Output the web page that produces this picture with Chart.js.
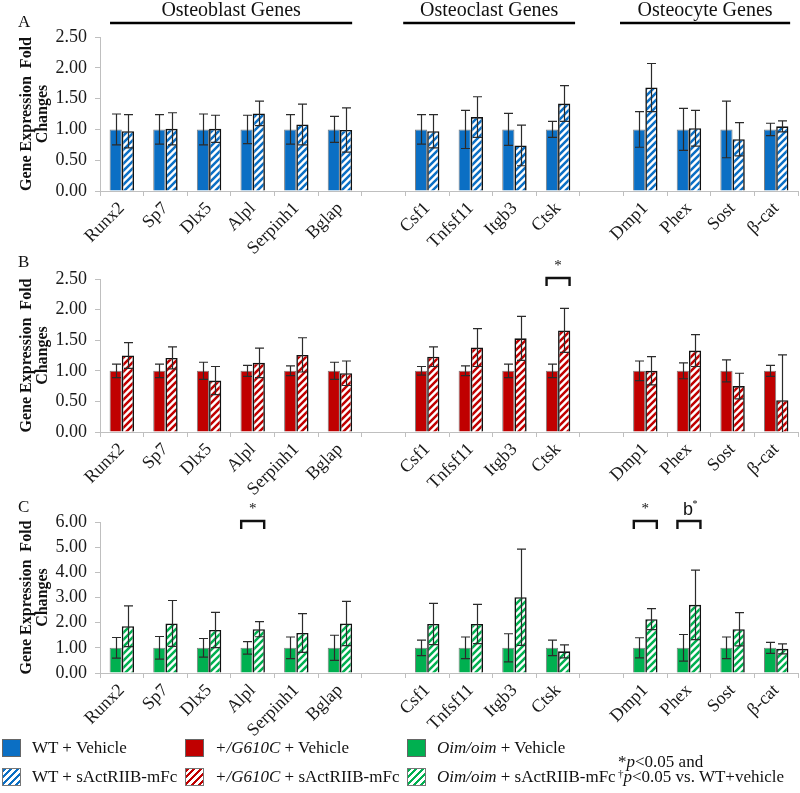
<!DOCTYPE html>
<html><head><meta charset="utf-8">
<script src="https://cdn.jsdelivr.net/npm/chart.js@4"></script>
<style>
body{margin:0;width:800px;height:793px;position:relative;background:#fff;font-family:'Liberation Serif',serif;overflow:hidden;color:#111}
canvas{position:absolute;left:0}
.lt{position:absolute;font-size:17px;line-height:16px;left:18px}
.leg{position:absolute;font-size:17px;white-space:nowrap;line-height:20px}
.sw{position:absolute;width:19px;height:18px;box-sizing:border-box;border:1px solid #666}
.up{position:relative;top:-5px;font-size:11px}
</style></head><body>
<canvas id="cA" width="800" height="260" style="top:0"></canvas>
<canvas id="cB" width="800" height="260" style="top:250px"></canvas>
<canvas id="cC" width="800" height="250" style="top:490px"></canvas>
<div class="lt" style="top:14px">A</div>
<div class="lt" style="top:254px">B</div>
<div class="lt" style="top:499px">C</div>
<div id="legend"></div>
<script>
// ---- data ----
const genes = ['Runx2','Sp7','Dlx5','Alpl','Serpinh1','Bglap','','Csf1','Tnfsf11','Itgb3','Ctsk','','Dmp1','Phex','Sost','β-cat'];
const yTicksA = [0,0.5,1,1.5,2,2.5];
const yTicksC = [0,1,2,3,4,5,6];

const wtVehicle    = [1,1,1,1,1,1,null,1,1,1,1,null,1,1,1,1];
const wtVehicleErr = [0.25,0.24,0.25,0.23,0.24,0.21,null,0.24,0.31,0.26,0.13,null,0.29,0.34,0.46,0.10];
const wtTreated    = [0.97,1.01,1.01,1.26,1.08,0.99,null,0.97,1.20,0.74,1.42,null,1.68,1.02,0.84,1.05];
const wtTreatedErr = [0.27,0.26,0.22,0.20,0.33,0.36,null,0.27,0.33,0.33,0.29,null,0.39,0.29,0.27,0.09];

const g610cVehicle    = [1,1,1,1,1,1,null,1,1,1,1,null,1,1,1,1];
const g610cVehicleErr = [0.11,0.11,0.14,0.09,0.08,0.14,null,0.07,0.08,0.11,0.11,null,0.16,0.13,0.18,0.09];
const g610cTreated    = [1.25,1.21,0.84,1.13,1.26,0.96,null,1.23,1.38,1.53,1.66,null,1.00,1.33,0.75,0.52];
const g610cTreatedErr = [0.21,0.18,0.23,0.24,0.28,0.20,null,0.16,0.31,0.36,0.36,null,0.23,0.26,0.21,0.74];

const oimVehicle    = [1,1,1,1,1,1,null,1,1,1,1,null,1,1,1,1];
const oimVehicleErr = [0.41,0.45,0.37,0.25,0.43,0.50,null,0.31,0.43,0.56,0.31,null,0.40,0.53,0.43,0.22];
const oimTreated    = [1.86,1.97,1.71,1.74,1.59,1.97,null,1.95,1.95,3.01,0.86,null,2.14,2.71,1.74,0.96];
const oimTreatedErr = [0.81,0.91,0.70,0.30,0.77,0.88,null,0.82,0.78,1.91,0.26,null,0.42,1.38,0.66,0.20];

const groupNames = ['Osteoblast Genes','Osteoclast Genes','Osteocyte Genes'];
const sigB = [{gene:'Ctsk', mark:'*'}];
const sigC = [{gene:'Alpl', mark:'*'},{gene:'Dmp1', mark:'*'},{gene:'Phex', mark:'b', sup:'*'}];

const seriesNames = [
  ['WT + Vehicle','WT + sActRIIB-mFc'],
  ['<i>+/G610C</i> + Vehicle','<i>+/G610C</i> + sActRIIB-mFc'],
  ['<i>Oim/oim</i> + Vehicle','<i>Oim/oim</i> + sActRIIB-mFc']
];
const colors = ['#0b6fc4','#c00000','#00b050'];

// ---- helpers ----
function hatch(color){
  const s=7, c=document.createElement('canvas'); c.width=c.height=s;
  const g=c.getContext('2d'); g.fillStyle='#fff'; g.fillRect(0,0,s,s);
  g.strokeStyle=color; g.lineWidth=2.5; g.beginPath();
  g.moveTo(-1,1);g.lineTo(1,-1);
  g.moveTo(-1,s+1);g.lineTo(s+1,-1);
  g.moveTo(s-1,s+1);g.lineTo(s+1,s-1);
  g.stroke();
  return g.createPattern(c,'repeat');
}
const FONT='Liberation Serif';

const overlay = {
  id:'overlay',
  afterDatasetsDraw(chart){
    const ctx=chart.ctx, ys=chart.scales.y;
    ctx.save();
    ctx.strokeStyle='#2b2b2b'; ctx.lineWidth=1.2;
    chart.data.datasets.forEach((ds,di)=>{
      const meta=chart.getDatasetMeta(di);
      meta.data.forEach((el,i)=>{
        const v=ds.data[i], e=ds.errors[i];
        if(v==null||e==null) return;
        const x=Math.round(el.x)+0.5, yt=ys.getPixelForValue(v+e), yb=ys.getPixelForValue(Math.max(0,v-e));
        ctx.beginPath();
        ctx.moveTo(x,yt);ctx.lineTo(x,yb);
        ctx.moveTo(x-4.5,yt);ctx.lineTo(x+4.5,yt);
        if(v-e>0){ctx.moveTo(x-4.5,yb);ctx.lineTo(x+4.5,yb);}
        ctx.stroke();
      });
    });
    ctx.restore();
  },
  afterDraw(chart){
    const o=chart.options.plugins.overlay||{};
    const ctx=chart.ctx, xs=chart.scales.x;
    const w=xs.width/genes.length;
    const px=v=>xs.left+(v+0.5)*w;
    ctx.save();
    if(o.headers){
      const spans=[[-0.27,5.28],[6.45,10.39],[11.42,15.32]];
      ctx.font='20px '+FONT; ctx.fillStyle='#111'; ctx.textAlign='center'; ctx.textBaseline='middle';
      ctx.strokeStyle='#000'; ctx.lineWidth=2.3;
      spans.forEach((s,k)=>{
        const a=px(s[0]), b=px(s[1]);
        ctx.fillText(groupNames[k],(a+b)/2,11);
        ctx.beginPath(); ctx.moveTo(a,23); ctx.lineTo(b,23); ctx.stroke();
      });
    }
    (o.sig||[]).forEach(s=>{
      const i=genes.indexOf(s.gene), c=px(i);
      const top=chart.chartArea.top-1;
      ctx.strokeStyle='#111'; ctx.lineWidth=2.4;
      ctx.beginPath(); ctx.moveTo(c-11.5,top+8); ctx.lineTo(c-11.5,top); ctx.lineTo(c+11.5,top); ctx.lineTo(c+11.5,top+8); ctx.stroke();
      ctx.fillStyle='#111'; ctx.textAlign='center'; ctx.textBaseline='middle';
      if(s.sup){
        ctx.font='18px Liberation Sans'; ctx.fillText(s.mark,c-1,top-11);
        ctx.font='10px '+FONT; ctx.fillText(s.sup,c+6,top-17);
      } else {
        ctx.font='15px '+FONT; ctx.fillText(s.mark,c,top-12);
      }
    });
    ctx.restore();
  }
};

function makeChart(id, k, veh, vehErr, trt, trtErr, ymax, step, padTop, xH, ov){
  const ctx=document.getElementById(id).getContext('2d');
  return new Chart(ctx,{
    type:'bar',
    data:{labels:genes,datasets:[
      {label:'v',data:veh,errors:vehErr,backgroundColor:colors[k],borderColor:'rgba(20,20,20,0.55)',borderWidth:1,categoryPercentage:0.56,barPercentage:1},
      {label:'t',data:trt,errors:trtErr,backgroundColor:hatch(colors[k]),borderColor:'#111',borderWidth:1.6,categoryPercentage:0.56,barPercentage:1}
    ]},
    options:{
      responsive:false,animation:false,
      layout:{padding:{top:padTop,right:2,left:0,bottom:0}},
      plugins:{legend:{display:false},tooltip:{enabled:false},overlay:ov},
      scales:{
        x:{
          grid:{offset:true,drawOnChartArea:false,drawTicks:true,tickLength:5,color:'#bfbfbf'},
          border:{color:'#bfbfbf',width:1},
          ticks:{autoSkip:false,maxRotation:45,minRotation:45,padding:2,color:'#1a1a1a',font:{family:FONT,size:18}},
          afterFit(s){s.height=xH;}
        },
        y:{
          min:0,max:ymax,
          grid:{drawOnChartArea:false,drawTicks:true,tickLength:5,color:'#bfbfbf'},
          border:{color:'#bfbfbf',width:1},
          ticks:{stepSize:step,padding:8,color:'#1a1a1a',font:{family:FONT,size:18},callback:v=>Number(v).toFixed(2)},
          title:{display:true,text:['Gene Expression  Fold','Changes'],color:'#111',font:{family:FONT,size:16,weight:'bold',lineHeight:1.0},padding:{top:19,bottom:0}},
          afterFit(s){s.width=100;}
        }
      }
    },
    plugins:[overlay]
  });
}

makeChart('cA',0,wtVehicle,wtVehicleErr,wtTreated,wtTreatedErr,yTicksA[yTicksA.length-1],yTicksA[1],37,69,{headers:true});
makeChart('cB',1,g610cVehicle,g610cVehicleErr,g610cTreated,g610cTreatedErr,yTicksA[yTicksA.length-1],yTicksA[1],29,78,{sig:sigB});
makeChart('cC',2,oimVehicle,oimVehicleErr,oimTreated,oimTreatedErr,yTicksC[yTicksC.length-1],yTicksC[1],32,67,{sig:sigC});

// ---- legend ----
const leg=document.getElementById('legend');
const cols=[[2,32],[185,215],[407,437]];
seriesNames.forEach((pair,k)=>{
  pair.forEach((name,r)=>{
    const top=r?768:739;
    const sw=document.createElement('div'); sw.className='sw';
    sw.style.left=cols[k][0]+'px'; sw.style.top=top+'px';
    if(r){sw.style.background='repeating-linear-gradient(135deg,'+colors[k]+' 0 2.2px,#fff 2.2px 4.8px)';sw.style.borderColor='#777';}
    else sw.style.background=colors[k];
    leg.appendChild(sw);
    const t=document.createElement('div'); t.className='leg';
    t.style.left=cols[k][1]+'px'; t.style.top=(top-1)+'px'; t.innerHTML=name;
    leg.appendChild(t);
  });
});
const n1=document.createElement('div'); n1.className='leg'; n1.style.left='618px'; n1.style.top='752px'; n1.innerHTML='*<i>p</i>&lt;0.05 and'; leg.appendChild(n1);
const n2=document.createElement('div'); n2.className='leg'; n2.style.left='618px'; n2.style.top='767px'; n2.innerHTML='<span class="up">†</span><i>p</i>&lt;0.05 vs. WT+vehicle'; leg.appendChild(n2);
</script>
</body></html>
